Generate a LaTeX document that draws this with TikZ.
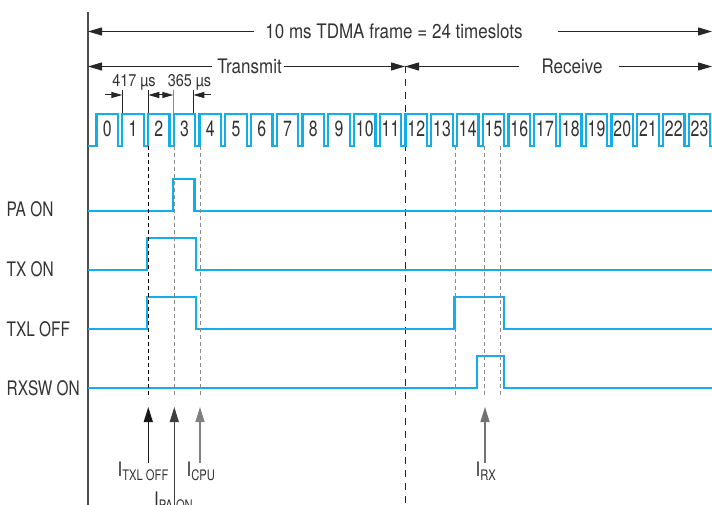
\documentclass[tikz,border=0pt]{standalone}
\usepackage{fontspec}
\setmainfont[FakeStretch=0.85]{TeX Gyre Heros}
\newfontfamily\slotfont[FakeStretch=0.72]{TeX Gyre Heros}
\newfontfamily\capfont[FakeStretch=0.77]{TeX Gyre Heros}
\usepackage{tikz}
\usetikzlibrary{arrows.meta}
\definecolor{sigblue}{HTML}{12AEEA}
\definecolor{inkgray}{HTML}{333333}
\definecolor{guidegray}{HTML}{8A8A8A}
\newcommand{\curr}[1]{I\raisebox{-4pt}{\capfont\fontsize{14.5}{16}\selectfont #1}}
\tikzset{
  lbl/.style={text=inkgray, inner sep=0pt, font=\fontsize{20}{24}\selectfont},
  siglbl/.style={text=inkgray, inner sep=0pt, font=\capfont\fontsize{20}{24}\selectfont},
  mlbl/.style={text=inkgray, inner sep=0pt, font=\fontsize{17}{20}\selectfont},
  slotnum/.style={text=inkgray, inner sep=0pt, font=\slotfont\fontsize{22}{24}\selectfont},
  sig/.style={draw=sigblue, line width=2.4pt, line join=miter},
  axis/.style={draw=black!70, line width=1.3pt},
  framesplit/.style={draw=black!85, line width=1pt, dash pattern=on 7pt off 6pt},
  guide/.style={line width=1pt, dash pattern=on 4pt off 3pt},
  arrow/.style={-{Triangle[length=14pt,width=8pt]}, draw=black!85, fill=black!85, line width=1pt},
  marrow/.style={-{Triangle[length=11pt,width=6pt]}, draw=black!85, fill=black!85, line width=1pt},
  mdouble/.style={{Triangle[length=11pt,width=6pt]}-{Triangle[length=11pt,width=6pt]}, draw=black!85, line width=1pt},
  tick/.style={line width=1pt},
  uparrow/.style={-{Triangle[length=15pt,width=9pt]}, line width=1.2pt}
}

\begin{document}
\begin{tikzpicture}[x=1pt,y=-1pt]
\useasboundingbox (0,0) rectangle (712,505);
\clip (0,0) rectangle (712,505);

\coordinate (axtop) at (88,12);
\coordinate (axbot) at (88,505);
\draw[axis] (axtop) -- (axbot);
\coordinate (midtop) at (405,66.5);
\coordinate (midbot) at (405,505);
\draw[framesplit] (midtop) -- (midbot);

% frame, transmit and receive spans
\node[lbl] (frame) at (394,31.5) {10 ms TDMA frame = 24 timeslots};
\coordinate (fl) at (88,31.5);
\coordinate (fr) at (712,31.5);
\draw[arrow] ([xshift=-11pt]frame.west) -- (fl);
\draw[arrow] ([xshift=35pt]frame.east) -- (fr);

\node[lbl] (tx) at (249.5,66.5) {Transmit};
\coordinate (txl) at (88,66.5);
\draw[arrow] ([xshift=-5pt]tx.west) -- (txl);
\draw[arrow] ([xshift=2pt]tx.east) -- (midtop);
\node[lbl] (rx) at (572,66.5) {Receive};
\coordinate (rxr) at (712,66.5);
\draw[arrow] ([xshift=-22pt]rx.west) -- (midtop);
\draw[arrow] ([xshift=16pt]rx.east) -- (rxr);

% slot timing
\coordinate (ta) at (122.3,95);
\coordinate (tb) at (148.3,95);
\coordinate (tc) at (173.3,95);
\coordinate (td) at (193.3,95);
\draw[tick, black!85] (122.3,90) -- (122.3,114);
\draw[tick, black!85] (148.3,90) -- (148.3,114);
\draw[tick, guidegray] (173.3,90) -- (173.3,114);
\draw[tick, black!85] (193.3,90) -- (193.3,114);
\coordinate (ma) at (105,95);
\coordinate (md) at (211,95);
\draw[marrow] (ma) -- (ta);
\draw[mdouble] (tb) -- (tc);
\draw[marrow] (md) -- (td);
\node[mlbl, anchor=base] (p417) at (134,87) {417 µs};
\node[mlbl, anchor=base] (p365) at (189.5,87) {365 µs};

% timeslots
\coordinate (w0) at (88,146);
\draw[sig] (w0) -- ++(8.5,0) foreach \i in {0,...,23} { -- ++(0,-32) -- ++(21.5,0) -- ++(0,32) -- ++(4.25,0) };
\foreach \i in {0,...,23}
  \node[slotnum] (n\i) at (107.25+\i*25.75,129) {\i};

% control lines
\node[siglbl, anchor=base west] (paon) at (6.5,216.5) {PA ON};
\node[siglbl, anchor=base west] (txon) at (6.5,276.5) {TX ON};
\node[siglbl, anchor=base west] (txloff) at (6.5,336.5) {TXL OFF};
\node[siglbl, anchor=base west] (rxswon) at (6.5,395.5) {RXSW ON};
\draw[sig] (88,211) -- (173,211) -- (173,179) -- (194.5,179) -- (194.5,211) -- (712,211);
\draw[sig] (88,270) -- (147,270) -- (147,238) -- (196,238) -- (196,270) -- (712,270);
\draw[sig] (88,329) -- (147,329) -- (147,297) -- (196,297) -- (196,329) -- (454.5,329)
  -- (454.5,297) -- (504,297) -- (504,329) -- (712,329);
\draw[sig] (88,388) -- (477,388) -- (477,356) -- (504,356) -- (504,388) -- (712,388);

% guides
\coordinate (g1) at (148.3,146); \coordinate (g1b) at (148.3,398);
\coordinate (g2) at (174.3,146); \coordinate (g2b) at (174.3,398);
\coordinate (g3) at (200,146);   \coordinate (g3b) at (200,398);
\coordinate (g4) at (455,146);   \coordinate (g4b) at (455,398);
\coordinate (g5) at (484.3,146); \coordinate (g5b) at (484.3,398);
\coordinate (g6) at (500,146);   \coordinate (g6b) at (500,398);
\draw[guide, black] (g1) -- (g1b);
\draw[guide, guidegray] (g2) -- (g2b);
\draw[guide, guidegray] (g3) -- (g3b);
\draw[guide, guidegray] (g4) -- (g4b);
\draw[guide, guidegray] (g5) -- (g5b);
\draw[guide, guidegray] (g6) -- (g6b);

% currents
\coordinate (itxlt) at (148.3,407); \coordinate (itxlf) at (148.3,463);
\coordinate (ipat) at (174.3,407);  \coordinate (ipaf) at (174.3,510);
\coordinate (icput) at (200,407);   \coordinate (icpuf) at (200,463);
\coordinate (irxt) at (485,407);    \coordinate (irxf) at (485,463);
\draw[uparrow, draw=black!90, fill=black!90] (itxlf) -- (itxlt);
\draw[uparrow, draw=black!75, fill=black!75] (ipaf) -- (ipat);
\draw[uparrow, draw=black!50, fill=black!50] (icpuf) -- (icput);
\draw[uparrow, draw=black!55, fill=black!55] (irxf) -- (irxt);
\node[lbl, anchor=base west] (itxl) at (117.5,476.5) {\curr{TXL OFF}};
\node[lbl, anchor=base west] (ipa) at (154,506) {\curr{PA ON}};
\node[lbl, anchor=base west] (icpu) at (186.5,476.5) {\curr{CPU}};
\node[lbl, anchor=base west] (irx) at (475.5,476.5) {\curr{RX}};
\end{tikzpicture}
\end{document}
